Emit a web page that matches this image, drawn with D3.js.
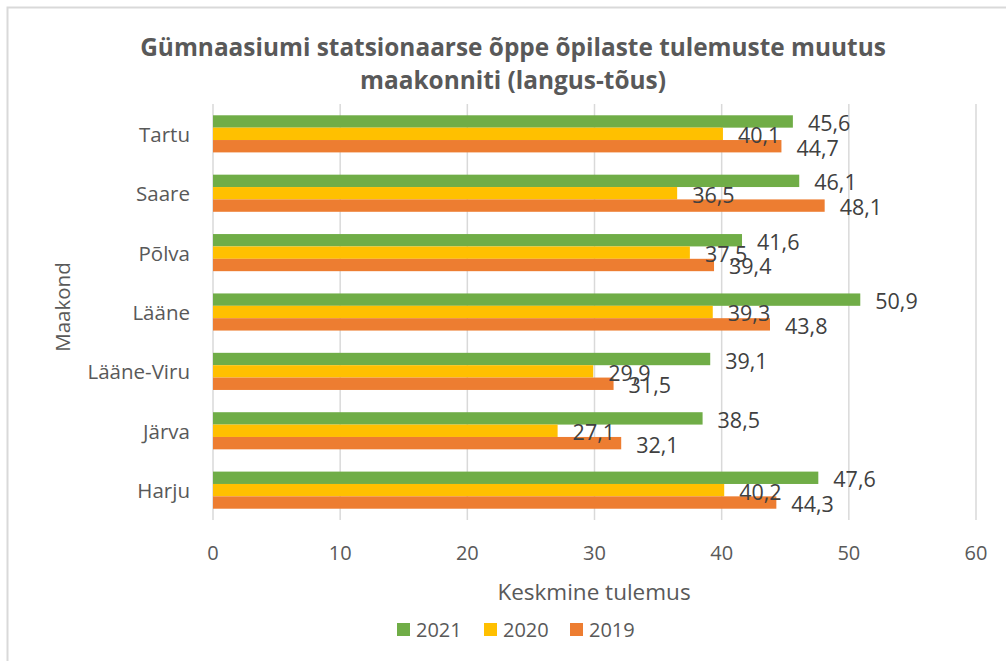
<!DOCTYPE html>
<html>
<head>
<meta charset="utf-8">
<script src="https://cdn.jsdelivr.net/npm/d3@7"></script>
<style>
  body { margin: 0; background: #fff; }
  text { font-family: "Open Sans", sans-serif; }
</style>
</head>
<body>
<svg id="chart" width="1006" height="661"></svg>
<script>
// data, top to bottom as drawn
var counties = ["Tartu", "Saare", "Põlva", "Lääne", "Lääne-Viru", "Järva", "Harju"]
var years = ["2021", "2020", "2019"]
var values2021 = [45.6, 46.1, 41.6, 50.9, 39.1, 38.5, 47.6]
var values2020 = [40.1, 36.5, 37.5, 39.3, 29.9, 27.1, 40.2]
var values2019 = [44.7, 48.1, 39.4, 43.8, 31.5, 32.1, 44.3]
var xTicks = [0, 10, 20, 30, 40, 50, 60]
var colors = { "2021": "#70AD47", "2020": "#FFC000", "2019": "#ED7D31" }

var series = { "2021": values2021, "2020": values2020, "2019": values2019 }
var rows = counties.map((c, i) => ({ county: c, vals: years.map(y => ({ year: y, value: series[y][i] })) }))

var svg = d3.select("#chart")
var margin = { top: 104, left: 213, right: 30, bottom: 141 }
var width = 1006 - margin.left - margin.right,
    height = 661 - margin.top - margin.bottom

// chart frame (only left/top edges visible in the crop)
svg.append("rect")
    .attr("x", 7.5).attr("y", 7.5)
    .attr("width", 1020).attr("height", 700)
    .attr("fill", "none").attr("stroke", "#D9D9D9").attr("stroke-width", 2)

var x = d3.scaleLinear().domain([0, 60]).range([0, width])
var y = d3.scaleBand().domain(counties).range([0, height]).paddingInner(0.375).paddingOuter(0.19)
var ySub = d3.scaleBand().domain(years).range([0, y.bandwidth()])

var g = svg.append("g").attr("transform", "translate(" + margin.left + "," + margin.top + ")")

// gridlines
g.selectAll(".grid").data(xTicks).enter().append("line")
    .attr("x1", d => x(d)).attr("x2", d => x(d))
    .attr("y1", 0).attr("y2", height)
    .attr("stroke", "#D9D9D9").attr("stroke-width", 1.5)

// tick labels
g.selectAll(".tick").data(xTicks).enter().append("text")
    .attr("x", d => x(d)).attr("y", height + 32)
    .attr("text-anchor", "middle").attr("dominant-baseline", "central")
    .attr("font-size", 20).attr("fill", "#595959")
    .text(d => d)

// category labels
g.selectAll(".cat").data(counties).enter().append("text")
    .attr("x", -23).attr("y", d => y(d) + y.bandwidth() / 2)
    .attr("text-anchor", "end").attr("dominant-baseline", "central")
    .attr("font-size", 20.5).attr("fill", "#595959")
    .text(d => d)

var groups = g.selectAll(".grp").data(rows).enter().append("g")
    .attr("transform", d => "translate(0," + y(d.county) + ")")

groups.selectAll("rect").data(d => d.vals).enter().append("rect")
    .attr("x", x(0)).attr("y", d => ySub(d.year))
    .attr("width", d => x(d.value) - x(0)).attr("height", ySub.bandwidth())
    .attr("fill", d => colors[d.year])

groups.selectAll(".lbl").data(d => d.vals).enter().append("text")
    .attr("x", d => x(d.value) + 15).attr("y", d => ySub(d.year) + ySub.bandwidth() / 2 + 1)
    .attr("dominant-baseline", "central")
    .attr("font-size", 21.5).attr("fill", "#404040")
    .text(d => String(d.value.toFixed(1)).replace(".", ","))

// title
svg.append("text").attr("x", 513).attr("y", 56).attr("text-anchor", "middle")
    .attr("font-size", 24.4).attr("font-weight", "bold").attr("fill", "#595959")
    .text("Gümnaasiumi statsionaarse õppe õpilaste tulemuste muutus")
svg.append("text").attr("x", 513).attr("y", 89).attr("text-anchor", "middle")
    .attr("font-size", 24.4).attr("font-weight", "bold").attr("fill", "#595959")
    .text("maakonniti (langus-tõus)")

// axis titles
svg.append("text").attr("x", 594).attr("y", 591)
    .attr("text-anchor", "middle").attr("dominant-baseline", "central")
    .attr("font-size", 22.5).attr("fill", "#595959")
    .text("Keskmine tulemus")
svg.append("text").attr("transform", "translate(62,307) rotate(-90)")
    .attr("text-anchor", "middle").attr("dominant-baseline", "central")
    .attr("font-size", 20.5).attr("fill", "#595959")
    .text("Maakond")

// legend
var legendX = [397, 484, 570]
var legend = svg.selectAll(".leg").data(years).enter().append("g")
    .attr("transform", (d, i) => "translate(" + legendX[i] + ",623)")
legend.append("rect").attr("width", 13).attr("height", 13).attr("fill", d => colors[d])
legend.append("text").attr("x", 19).attr("y", 6.5).attr("dominant-baseline", "central")
    .attr("font-size", 20).attr("fill", "#595959").text(d => d)
</script>
</body>
</html>
